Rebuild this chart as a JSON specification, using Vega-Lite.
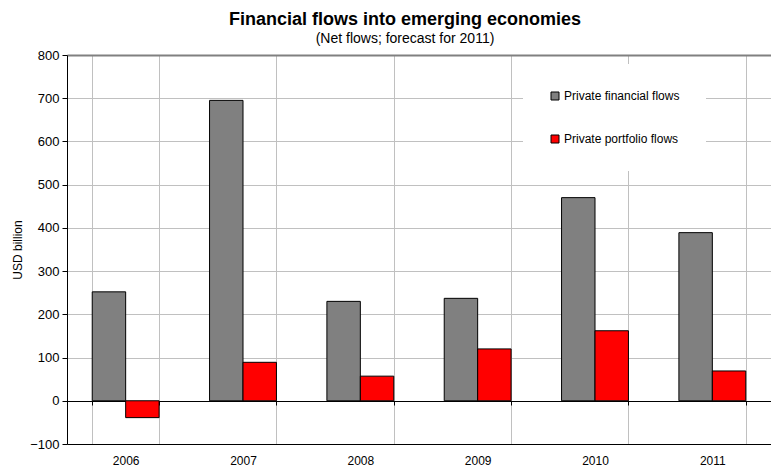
{
  "$schema": "https://vega.github.io/schema/vega-lite/v6.json",
  "width": 704,
  "height": 389,
  "autosize": {"type": "none"},
  "padding": {"left": 67, "top": 55, "right": 0, "bottom": 26},
  "background": "white",
  "config": {
    "font": "Liberation Sans",
    "view": {"stroke": null}
  },
  "title": {
    "text": "Financial flows into emerging economies",
    "subtitle": "(Net flows; forecast for 2011)",
    "anchor": "middle",
    "frame": "group",
    "dx": -14,
    "offset": 3,
    "fontSize": 18,
    "fontWeight": "bold",
    "color": "black",
    "subtitleFontSize": 14,
    "subtitleColor": "black",
    "subtitlePadding": 3
  },
  "data": {
    "values": [
      {"year": "2006", "series": "Private financial flows", "value": 252},
      {"year": "2006", "series": "Private portfolio flows", "value": -39},
      {"year": "2007", "series": "Private financial flows", "value": 695},
      {"year": "2007", "series": "Private portfolio flows", "value": 89},
      {"year": "2008", "series": "Private financial flows", "value": 230},
      {"year": "2008", "series": "Private portfolio flows", "value": 57},
      {"year": "2009", "series": "Private financial flows", "value": 237},
      {"year": "2009", "series": "Private portfolio flows", "value": 120},
      {"year": "2010", "series": "Private financial flows", "value": 470},
      {"year": "2010", "series": "Private portfolio flows", "value": 162},
      {"year": "2011", "series": "Private financial flows", "value": 389},
      {"year": "2011", "series": "Private portfolio flows", "value": 69}
    ]
  },
  "encoding": {
    "y": {
      "field": "value",
      "type": "quantitative",
      "scale": {"domain": [-100, 800], "nice": false, "zero": false},
      "axis": {
        "title": "USD billion",
        "values": [-100, 0, 100, 200, 300, 400, 500, 600, 700, 800],
        "tickSize": 5,
        "tickColor": "black",
        "domainColor": "black",
        "labelFontSize": 13,
        "labelColor": "black",
        "labelPadding": 3,
        "titleFontSize": 12,
        "titleFontWeight": "normal",
        "titleColor": "black",
        "titlePadding": 5,
        "gridColor": {"condition": [{"test": "datum.value === 0", "value": "black"}, {"test": "datum.value === 800", "value": "#808080"}], "value": "#c0c0c0"},
        "gridWidth": {"condition": {"test": "datum.value === 800", "value": 2}, "value": 1},
        "gridOpacity": 1
      }
    }
  },
  "layer": [
    {
      "mark": {"type": "bar", "stroke": "black", "strokeWidth": 1},
      "encoding": {
        "x": {
          "field": "year",
          "type": "nominal",
          "scale": {"paddingInner": 0.43, "paddingOuter": 0.215},
          "axis": {
            "title": null,
            "labelAngle": 0,
            "ticks": false,
            "domainColor": "black",
            "domainWidth": 1,
            "grid": true,
            "tickBand": "extent",
            "gridColor": "#c0c0c0",
            "labelPadding": 11,
            "labelFontSize": 12,
            "labelColor": "black"
          }
        },
        "xOffset": {
          "field": "series",
          "type": "nominal",
          "sort": ["Private financial flows", "Private portfolio flows"]
        },
        "color": {
          "field": "series",
          "type": "nominal",
          "sort": ["Private financial flows", "Private portfolio flows"],
          "scale": {"domain": ["Private financial flows", "Private portfolio flows"], "range": ["#808080", "#ff0000"]},
          "legend": {
            "title": null,
            "orient": "none",
            "legendX": 456,
            "legendY": 9,
            "fillColor": "white",
            "padding": 26,
            "symbolType": "square",
            "symbolSize": 64,
            "symbolStrokeColor": "black",
            "symbolStrokeWidth": 1,
            "symbolOpacity": 1,
            "labelFontSize": 12,
            "labelColor": "black",
            "labelOffset": 3,
            "rowPadding": 31
          }
        }
      }
    },
    {
      "mark": {"type": "bar", "opacity": 0},
      "encoding": {
        "x": {
          "field": "year",
          "type": "nominal",
          "scale": {"paddingInner": 0.43, "paddingOuter": 0.215},
          "axis": {
            "orient": "top",
            "offset": -346,
            "title": null,
            "labels": false,
            "domain": false,
            "grid": false,
            "ticks": true,
            "tickBand": "extent",
            "tickSize": -4,
            "tickColor": "black",
            "tickWidth": 1
          }
        }
      }
    }
  ],
  "resolve": {"axis": {"x": "independent"}}
}
